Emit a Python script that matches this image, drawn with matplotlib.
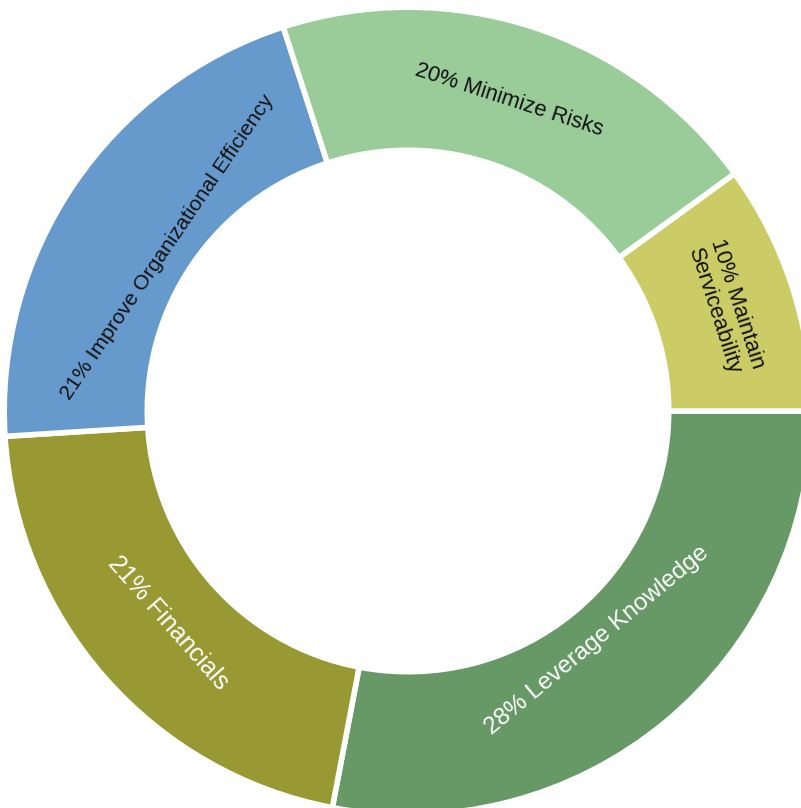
import numpy as np
import matplotlib.pyplot as plt

plt.rcParams['font.family'] = ['Liberation Sans', 'DejaVu Sans']

# goal shares, drawn clockwise from 3 o'clock
categories = ['Leverage Knowledge', 'Financials', 'Improve Organizational Efficiency',
              'Minimize Risks', 'Maintain\nServiceability']
shares = [28, 21, 21, 20, 10]

colors = ['#669966', '#999933', '#6699cc', '#99cc99', '#cccc66']
text_colors = ['white', 'white', '#111111', '#111111', '#111111']
# label placement: distance from the centre (pixel units) and font size
label_radius = [297, 320, 291, 327, 334]
label_size = [17.5, 18, 15.3, 15.8, 16]

R_OUT = 401
R_IN = 263.5
LW = 4  # white separator, points
pad = LW * 100 / 72 / 2

fig = plt.figure(figsize=(8.01, 8.08), dpi=100)
ax = fig.add_axes([0, 0, 1, 1])

wedges, _ = ax.pie(shares, colors=colors, startangle=0, counterclock=False,
                   radius=R_OUT + pad,
                   wedgeprops=dict(width=(R_OUT + pad) - (R_IN - pad),
                                   edgecolor='white', linewidth=LW))

for w, cat, share, tc, r, fs in zip(wedges, categories, shares, text_colors,
                                    label_radius, label_size):
    mid = (w.theta1 + w.theta2) / 2
    rad = np.deg2rad(mid)
    rot = mid + 90 if np.sin(rad) < 0 else mid - 90
    ax.text(r * np.cos(rad), r * np.sin(rad), f'{share}% {cat}',
            color=tc, fontsize=fs, rotation=rot, rotation_mode='anchor',
            ha='center', va='center', multialignment='center', linespacing=1.15)

# ring centre sits at pixel (408, 411); the outer edge runs off the canvas
ax.set_xlim(-408, 801 - 408)
ax.set_ylim(-(808 - 411), 411)
ax.set_aspect('equal')
ax.axis('off')

fig.savefig('out.png', dpi=100, facecolor='white')
